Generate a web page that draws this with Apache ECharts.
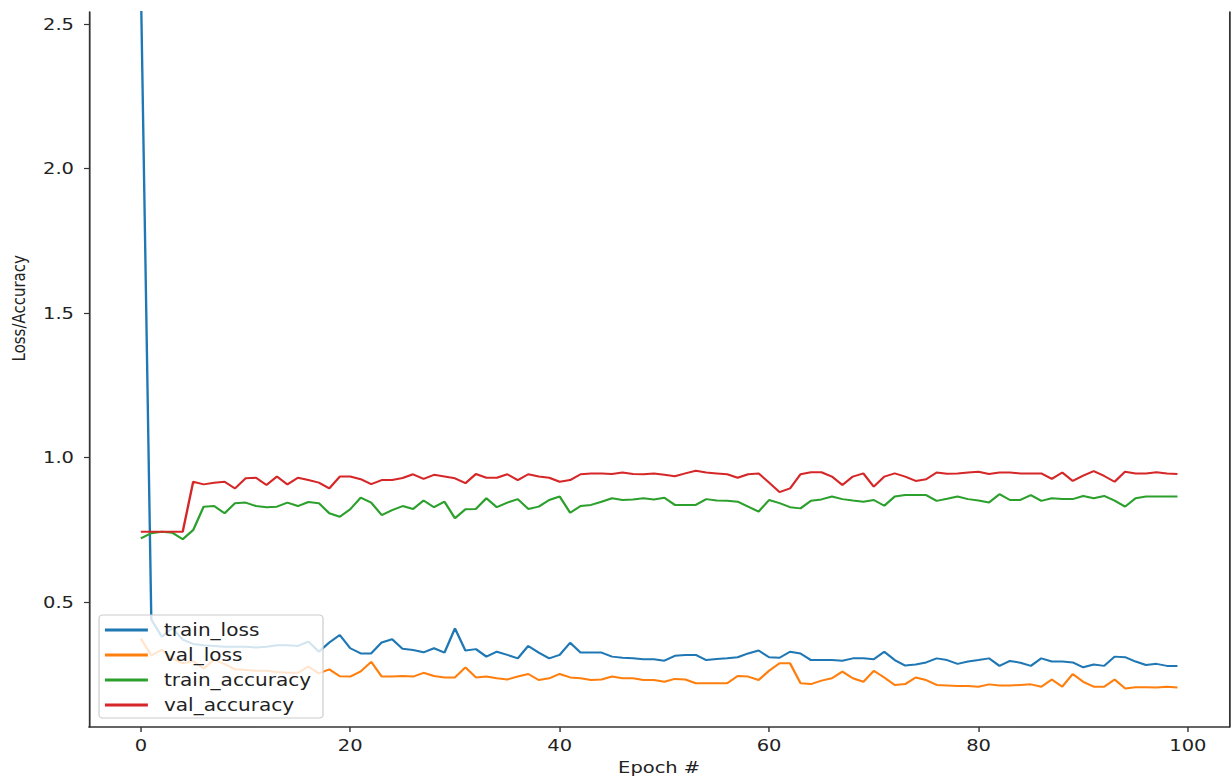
<!DOCTYPE html>
<html>
<head>
<meta charset="utf-8">
<script src="https://cdn.jsdelivr.net/npm/echarts@6/dist/echarts.min.js"></script>
<style>
html,body{margin:0;padding:0;background:#fff;overflow:hidden;}
#chart{width:1043px;height:783px;transform:scaleX(1.1803);transform-origin:0 0;}
</style>
</head>
<body>
<div id="chart"></div>
<script>
const seriesNames = ['train_loss', 'val_loss', 'train_accuracy', 'val_accuracy'];
const xTicks = [0, 20, 40, 60, 80, 100];
const yTicks = [0.5, 1.0, 1.5, 2.0, 2.5];

const trainLoss = [
  2.65, 0.44, 0.38, 0.41, 0.37, 0.355, 0.35, 0.348, 0.345, 0.345, 0.345, 0.343, 0.345, 0.35, 0.35, 0.348, 0.363, 0.328, 0.36, 0.386, 0.34, 0.322, 0.322, 0.36, 0.371,
  0.338, 0.334, 0.326, 0.340, 0.325, 0.409, 0.332, 0.337, 0.311, 0.328, 0.317, 0.305, 0.348, 0.325, 0.305, 0.317, 0.359, 0.325, 0.325, 0.325, 0.311, 0.307, 0.305, 0.302, 0.302, 0.297,
  0.314, 0.317, 0.317, 0.299, 0.303, 0.305, 0.309, 0.322, 0.332, 0.309, 0.307, 0.328, 0.322, 0.299, 0.299, 0.299, 0.297, 0.305, 0.305, 0.302, 0.328, 0.299, 0.280, 0.284, 0.291, 0.305,
  0.299, 0.286, 0.294, 0.299, 0.305, 0.279, 0.296, 0.290, 0.279, 0.305, 0.294, 0.294, 0.291, 0.274, 0.284, 0.279, 0.311, 0.309, 0.294, 0.282, 0.286, 0.279, 0.279
];
const valLoss = [
  0.374, 0.315, 0.335, 0.305, 0.288, 0.295, 0.27, 0.300, 0.285, 0.267, 0.265, 0.262, 0.262, 0.258, 0.255, 0.255, 0.277, 0.253, 0.267, 0.243, 0.242, 0.260, 0.293, 0.242, 0.242,
  0.244, 0.242, 0.255, 0.244, 0.239, 0.239, 0.274, 0.239, 0.242, 0.236, 0.232, 0.242, 0.251, 0.230, 0.236, 0.251, 0.239, 0.236, 0.230, 0.232, 0.242, 0.236, 0.236, 0.230, 0.230, 0.224,
  0.234, 0.232, 0.219, 0.219, 0.219, 0.219, 0.244, 0.242, 0.230, 0.262, 0.288, 0.288, 0.219, 0.216, 0.228, 0.236, 0.259, 0.236, 0.224, 0.262, 0.239, 0.213, 0.216, 0.239, 0.230, 0.213,
  0.211, 0.209, 0.209, 0.207, 0.215, 0.211, 0.211, 0.213, 0.215, 0.207, 0.232, 0.207, 0.251, 0.224, 0.207, 0.207, 0.232, 0.201, 0.205, 0.205, 0.204, 0.207, 0.204
];
const trainAcc = [
  0.720, 0.738, 0.743, 0.740, 0.717, 0.749, 0.830, 0.832, 0.807, 0.842, 0.844, 0.832, 0.828, 0.830, 0.844, 0.832, 0.846, 0.842, 0.807, 0.795, 0.821, 0.861, 0.844, 0.801, 0.818,
  0.832, 0.822, 0.851, 0.828, 0.847, 0.790, 0.821, 0.822, 0.859, 0.828, 0.844, 0.856, 0.822, 0.830, 0.853, 0.865, 0.809, 0.832, 0.836, 0.847, 0.859, 0.853, 0.855, 0.859, 0.855, 0.861,
  0.836, 0.836, 0.836, 0.856, 0.851, 0.850, 0.847, 0.830, 0.813, 0.853, 0.842, 0.828, 0.824, 0.850, 0.855, 0.865, 0.856, 0.851, 0.847, 0.853, 0.833, 0.865, 0.870, 0.870, 0.870, 0.850,
  0.857, 0.865, 0.856, 0.851, 0.844, 0.873, 0.853, 0.853, 0.870, 0.850, 0.859, 0.856, 0.856, 0.867, 0.859, 0.867, 0.851, 0.830, 0.859, 0.865, 0.865, 0.865, 0.865
];
const valAcc = [
  0.743, 0.743, 0.743, 0.743, 0.743, 0.916, 0.907, 0.913, 0.916, 0.893, 0.928, 0.930, 0.905, 0.934, 0.907, 0.930, 0.922, 0.913, 0.893, 0.934, 0.934, 0.925, 0.908, 0.922, 0.922,
  0.929, 0.942, 0.926, 0.940, 0.934, 0.928, 0.911, 0.943, 0.930, 0.930, 0.942, 0.922, 0.942, 0.934, 0.930, 0.916, 0.922, 0.942, 0.945, 0.945, 0.943, 0.948, 0.943, 0.942, 0.945, 0.940,
  0.935, 0.945, 0.954, 0.948, 0.945, 0.942, 0.930, 0.942, 0.945, 0.913, 0.880, 0.893, 0.942, 0.949, 0.949, 0.934, 0.905, 0.934, 0.945, 0.899, 0.934, 0.945, 0.934, 0.919, 0.925, 0.948,
  0.944, 0.945, 0.948, 0.951, 0.943, 0.948, 0.948, 0.945, 0.945, 0.945, 0.926, 0.948, 0.919, 0.937, 0.953, 0.936, 0.916, 0.951, 0.945, 0.945, 0.949, 0.945, 0.943
];

const colors = ['#1f77b4', '#ff7f0e', '#2ca02c', '#d62728'];
const allSeries = [trainLoss, valLoss, trainAcc, valAcc];
const textColor = '#222';
const axisColor = '#333';
const font = 'DejaVu Sans';

const chart = echarts.init(document.getElementById('chart'), null, {renderer: 'svg'});
chart.setOption({
  animation: false,
  color: colors,
  grid: {left: 75.4, right: 1.5, top: 12, bottom: 56, containLabel: false},
  xAxis: {
    type: 'value', min: -4.95, max: 103.95,
    name: 'Epoch #', nameLocation: 'middle', nameGap: 32,
    nameTextStyle: {fontFamily: font, fontSize: 16.5, color: textColor},
    axisLine: {show: true, onZero: false, lineStyle: {color: axisColor, width: 1.5}},
    axisTick: {show: true, length: 5, customValues: xTicks, lineStyle: {color: axisColor, width: 1.2}},
    axisLabel: {customValues: xTicks, margin: 10, fontFamily: font, fontSize: 16.5, color: textColor},
    splitLine: {show: false}
  },
  yAxis: [{
    type: 'value', min: 0.0675, max: 2.5415,
    axisLine: {show: true, onZero: false, lineStyle: {color: axisColor, width: 1.5}},
    axisTick: {show: true, length: 4.2, customValues: yTicks, lineStyle: {color: axisColor, width: 1.2}},
    axisLabel: {customValues: yTicks, margin: 12.7, fontFamily: font, fontSize: 16.5, color: textColor,
      formatter: v => Number(v).toFixed(1)},
    splitLine: {show: false}
  }, {
    type: 'value', min: 0.0675, max: 2.5415, position: 'right',
    axisLine: {show: true, onZero: false, lineStyle: {color: axisColor, width: 1.5}},
    axisTick: {show: false}, axisLabel: {show: false}, splitLine: {show: false}
  }],
  legend: {
    orient: 'vertical', left: 83.9, top: 615,
    data: seriesNames,
    icon: 'rect', itemWidth: 36.4, itemHeight: 3, itemGap: 5,
    padding: [5, 10, 3, 5],
    backgroundColor: 'rgba(255,255,255,0.8)', borderColor: '#cccccc', borderWidth: 1, borderRadius: 3,
    textStyle: {fontFamily: font, fontSize: 17, color: textColor, lineHeight: 20, padding: [0, 0, 0, 8.6]}
  },
  graphic: [{
    type: 'text', left: 8.5, top: 255,
    rotation: Math.PI / 2,
    style: {text: 'Loss/Accuracy', fontFamily: font, fontSize: 15, fill: textColor}
  }],
  series: seriesNames.map((name, i) => ({
    name: name, type: 'line', yAxisIndex: 0,
    data: allSeries[i].map((v, e) => [e, v]),
    showSymbol: false, symbol: 'none', clip: true,
    lineStyle: {width: 2, color: colors[i]},
    itemStyle: {color: colors[i]},
    z: 2 + i
  }))
});
</script>
</body>
</html>
